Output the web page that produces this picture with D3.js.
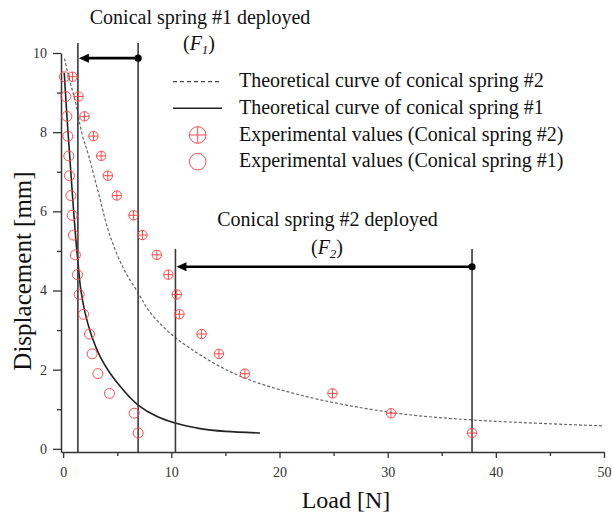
<!DOCTYPE html>
<html>
<head>
<meta charset="utf-8">
<script src="https://cdn.jsdelivr.net/npm/d3@7"></script>
<style>
  html, body { margin: 0; padding: 0; background: #fff; }
  svg { display: block; font-family: "Liberation Serif", "Times New Roman", serif; }
</style>
</head>
<body>
<svg id="chart" width="612" height="513"></svg>
<script>
// ---------------- data ----------------
const xTicks = [0, 10, 20, 30, 40, 50];
const xMinorTicks = [5, 15, 25, 35, 45];
const yTicks = [0, 2, 4, 6, 8, 10];
const yMinorTicks = [1, 3, 5, 7, 9];

// Experimental values (Conical spring #2)
const spring2Load = [0.86, 1.42, 1.97, 2.80, 3.51, 4.13, 4.96, 6.50, 7.33, 8.66, 9.73, 10.5, 10.75, 12.8, 14.4, 16.8, 24.9, 30.3, 37.8];
const spring2Disp = [9.4, 8.9, 8.4, 7.9, 7.4, 6.9, 6.4, 5.9, 5.4, 4.9, 4.4, 3.9, 3.4, 2.9, 2.4, 1.9, 1.4, 0.9, 0.4];

// Experimental values (Conical spring #1)
const spring1Load = [0.12, 0.25, 0.34, 0.43, 0.52, 0.58, 0.71, 0.83, 0.95, 1.13, 1.32, 1.48, 1.88, 2.43, 2.68, 3.2, 4.28, 6.56, 6.93];
const spring1Disp = [9.4, 8.9, 8.4, 7.9, 7.4, 6.9, 6.4, 5.9, 5.4, 4.9, 4.4, 3.9, 3.4, 2.9, 2.4, 1.9, 1.4, 0.9, 0.4];

// Theoretical curve of conical spring #1 (solid)
const theory1Load = [0.1, 0.35, 0.63, 0.9, 1.15, 1.41, 1.63, 2.03, 2.65, 3.42, 4.34, 5.27, 6.1, 6.96, 8.5, 10.35, 12.66, 15.0, 18.2];
const theory1Disp = [9.5, 8.4, 7.3, 6.25, 5.35, 4.6, 4.02, 3.43, 2.84, 2.33, 1.91, 1.58, 1.32, 1.1, 0.84, 0.65, 0.51, 0.44, 0.4];

// Theoretical curve of conical spring #2 (dashed)
const theory2Load = [0.12, 0.6, 1.11, 1.73, 2.34, 3.27, 4.25, 5.57, 6.96, 7.98, 10.38, 15.74, 21.9, 30.3, 37.8, 50];
const theory2Disp = [9.86, 9.3, 8.8, 7.97, 7.42, 6.46, 5.45, 4.56, 3.93, 3.47, 2.81, 1.91, 1.36, 0.92, 0.73, 0.58];

// Deployment markers
const deployLabels = ["Conical spring #1 deployed", "Conical spring #2 deployed"];
const deployFrom = [6.93, 37.8];
const deployTo = [1.36, 10.38];
const deployArrowY = [9.87, 4.6];
const deployTop = [10.25, 5.05];
const deploySub = ["1", "2"];

const legendLabels = [
  "Theoretical curve of conical spring #2",
  "Theoretical curve of conical spring #1",
  "Experimental values (Conical spring #2)",
  "Experimental values (Conical spring #1)"
];

// ---------------- drawing ----------------
const svg = d3.select("#chart");
const red = "#ff4a4a";
const axisCol = "#333";

const x = d3.scaleLinear().domain([-0.2, 50]).range([61, 604]);
const y = d3.scaleLinear().domain([-0.08, 10]).range([452, 53]);

function styleAxis(g) {
  g.selectAll("path.domain").attr("stroke", axisCol).attr("stroke-width", 1.5);
  g.selectAll(".tick line").attr("stroke", axisCol).attr("stroke-width", 1.3);
  g.selectAll(".tick text").attr("fill", axisCol).style("font-size", "14px")
    .style("font-family", "'Liberation Serif', serif");
}
const gx = svg.append("g").attr("transform", `translate(0,${y.range()[0]})`)
  .call(d3.axisBottom(x).tickValues(xTicks).tickSize(6).tickSizeOuter(0).tickPadding(9).tickFormat(d3.format("d")));
styleAxis(gx);
const gxm = svg.append("g").attr("transform", `translate(0,${y.range()[0]})`)
  .call(d3.axisBottom(x).tickValues(xMinorTicks).tickSize(4).tickSizeOuter(0).tickFormat(""));
styleAxis(gxm);
gxm.select("path.domain").remove();

const gy = svg.append("g").attr("transform", `translate(${x.range()[0]},0)`)
  .call(d3.axisLeft(y).tickValues(yTicks).tickSize(8).tickSizeOuter(0).tickPadding(6).tickFormat(d3.format("d")));
styleAxis(gy);
const gym = svg.append("g").attr("transform", `translate(${x.range()[0]},0)`)
  .call(d3.axisLeft(y).tickValues(yMinorTicks).tickSize(4).tickSizeOuter(0).tickFormat(""));
styleAxis(gym);
gym.select("path.domain").remove();

// Axis titles
svg.append("text").attr("x", 346).attr("y", 508).attr("text-anchor", "middle")
  .style("font-size", "24px").attr("fill", "#111").text("Load [N]");
svg.append("text").attr("transform", "translate(31,271) rotate(-90)").attr("text-anchor", "middle")
  .style("font-size", "25px").attr("fill", "#111").text("Displacement [mm]");

// Theoretical curves
const t1 = theory1Load.map((v, i) => [v, theory1Disp[i]]);
const t2 = theory2Load.map((v, i) => [v, theory2Disp[i]]);
const line1 = d3.line().x(d => x(d[0])).y(d => y(d[1])).curve(d3.curveCatmullRom.alpha(0.5));

svg.append("path").datum(t2).attr("d", line1).attr("fill", "none")
  .attr("stroke", "#666").attr("stroke-width", 1.2).attr("stroke-dasharray", "3,2");
svg.append("path").datum(t1).attr("d", line1).attr("fill", "none")
  .attr("stroke", "#222").attr("stroke-width", 1.6);

// Deployment markers
deployFrom.forEach((f, i) => {
  const t = deployTo[i];
  const ay = y(deployArrowY[i]);
  [f, t].forEach(v => {
    svg.append("line").attr("x1", x(v)).attr("x2", x(v))
      .attr("y1", y(deployTop[i])).attr("y2", y.range()[0])
      .attr("stroke", "#3a3a3a").attr("stroke-width", 1.6);
  });
  svg.append("line").attr("x1", x(f)).attr("x2", x(t) + 6).attr("y1", ay).attr("y2", ay)
    .attr("stroke", "#000").attr("stroke-width", 2.6);
  const tx = x(t) + 1;
  svg.append("path").attr("d", `M${tx},${ay} L${tx + 10},${ay - 4.5} L${tx + 10},${ay + 4.5} Z`).attr("fill", "#000");
  svg.append("circle").attr("cx", x(f)).attr("cy", ay).attr("r", 3.6).attr("fill", "#000");
});

// Deployment labels
const labPos = [[200, 24, 199, 50], [327.5, 226, 327, 254]];
deployLabels.forEach((txt, i) => {
  const p = labPos[i];
  svg.append("text").attr("x", p[0]).attr("y", p[1]).attr("text-anchor", "middle")
    .style("font-size", "20px").attr("fill", "#111").text(txt);
  const tt = svg.append("text").attr("x", p[2]).attr("y", p[3]).attr("text-anchor", "middle")
    .style("font-size", "20px").attr("fill", "#111");
  tt.append("tspan").text("(");
  tt.append("tspan").style("font-style", "italic").text("F");
  tt.append("tspan").style("font-style", "italic").style("font-size", "13px").attr("dy", 4).text(deploySub[i]);
  tt.append("tspan").attr("dy", -4).text(")");
});

// Experimental markers
function crossCircle(g, cx, cy, r) {
  g.append("circle").attr("cx", cx).attr("cy", cy).attr("r", r)
    .attr("fill", "none").attr("stroke", red).attr("stroke-width", 1);
  g.append("line").attr("x1", cx - r).attr("x2", cx + r).attr("y1", cy).attr("y2", cy)
    .attr("stroke", red).attr("stroke-width", 1);
  g.append("line").attr("x1", cx).attr("x2", cx).attr("y1", cy - r).attr("y2", cy + r)
    .attr("stroke", red).attr("stroke-width", 1);
}
const g2 = svg.append("g");
spring2Load.forEach((v, i) => crossCircle(g2, x(v), y(spring2Disp[i]), 4.7));
const g1 = svg.append("g");
spring1Load.forEach((v, i) => {
  g1.append("circle").attr("cx", x(v)).attr("cy", y(spring1Disp[i])).attr("r", 5)
    .attr("fill", "none").attr("stroke", red).attr("stroke-width", 1);
});

// Legend
const lg = svg.append("g");
const legY = [81.7, 108.3, 135, 161.7];
lg.append("line").attr("x1", 173).attr("x2", 222).attr("y1", legY[0]).attr("y2", legY[0])
  .attr("stroke", "#444").attr("stroke-width", 1.3).attr("stroke-dasharray", "4,3");
lg.append("line").attr("x1", 173).attr("x2", 222).attr("y1", legY[1]).attr("y2", legY[1])
  .attr("stroke", "#222").attr("stroke-width", 1.6);
crossCircle(lg, 197.7, legY[2], 8.3);
lg.append("circle").attr("cx", 197.7).attr("cy", legY[3]).attr("r", 8.3)
  .attr("fill", "none").attr("stroke", red).attr("stroke-width", 1);
legendLabels.forEach((t, i) => {
  lg.append("text").attr("x", 239).attr("y", legY[i] + 5.5)
    .style("font-size", "20px").attr("fill", "#111").text(t);
});
</script>
</body>
</html>
